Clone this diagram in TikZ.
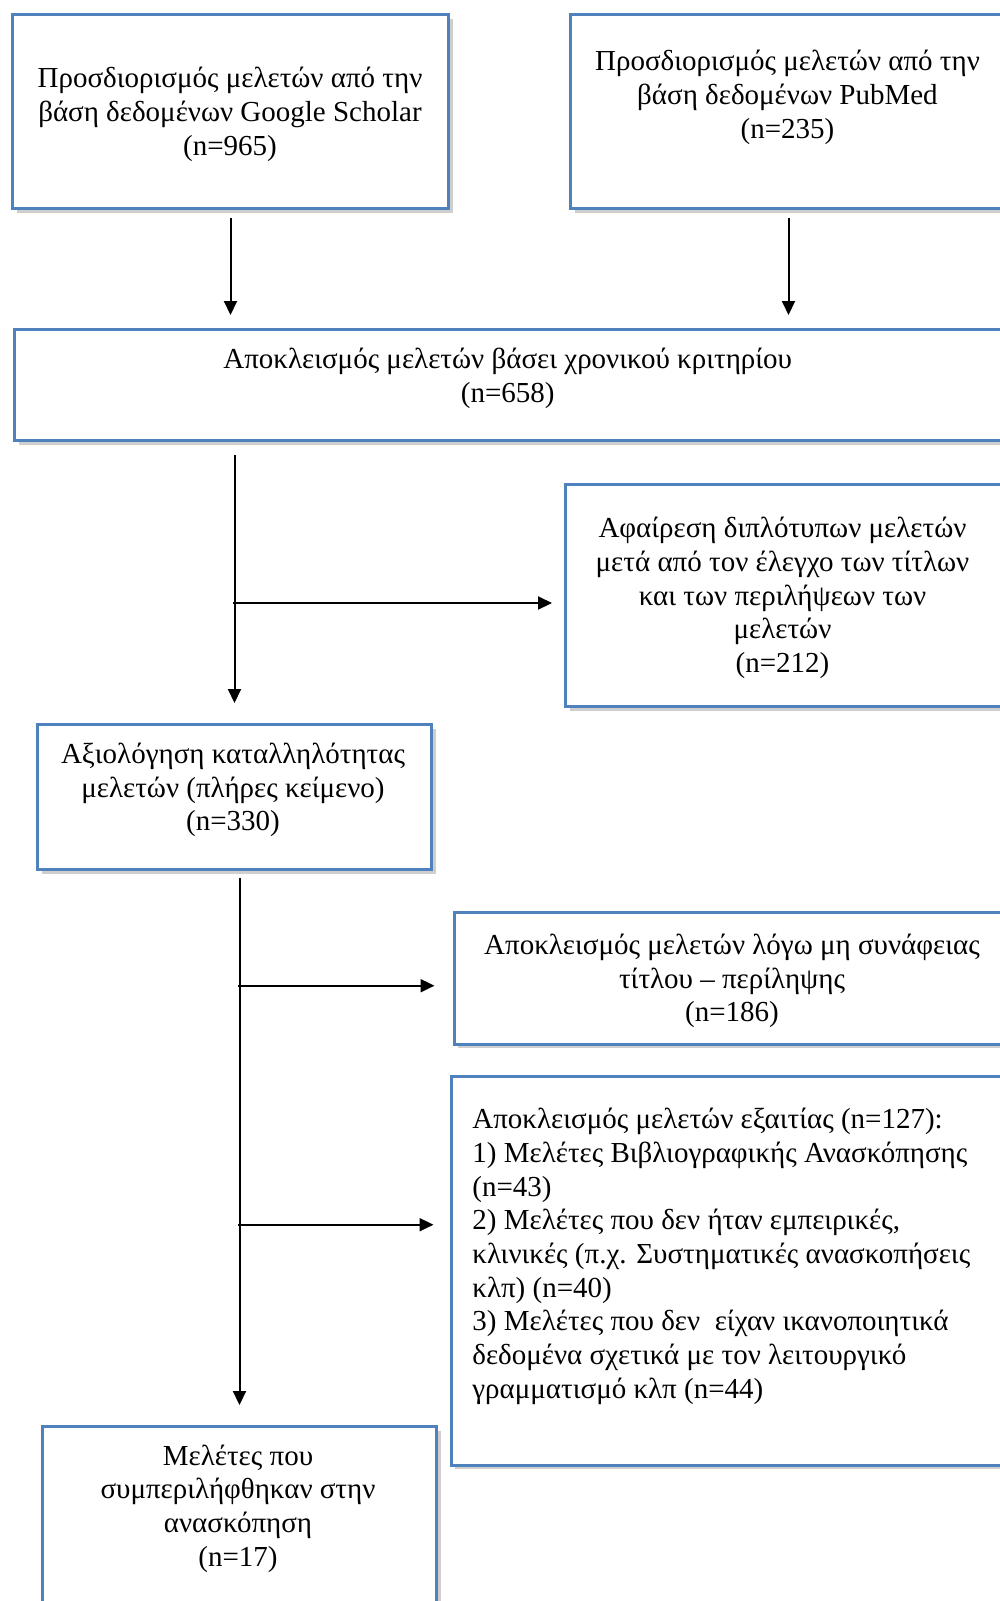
\documentclass[tikz,border=0pt]{standalone}
\usepackage{fontspec}
\setmainfont{Liberation Serif}
\usetikzlibrary{positioning,arrows.meta,shadows}
\definecolor{boxblue}{HTML}{4F81BD}
\tikzset{flow box/.style={draw=boxblue,line width=1.5pt,fill=white,inner sep=0pt,anchor=north west,drop shadow={shadow xshift=2pt,shadow yshift=-2pt,opacity=0.35,fill=black!55}},
flow text/.style={inner sep=0pt,align=center,yshift=-1.2pt,font=\fontsize{14.5pt}{16.85pt}\selectfont},
flow arrow/.style={line width=1pt,-{Triangle[length=7pt,width=6.5pt]}},}

\begin{document}
\begin{tikzpicture}[x=0.5pt,y=-0.5pt]
	\useasboundingbox (0,0) rectangle (1000,1601);

	% boxes
	\node[flow box,minimum width=218pt,minimum height=97pt] (gs) at (11,13) {};
	\node[flow box,minimum width=218pt,minimum height=97pt] (pm) at (569,13) {};
	\node[flow box,minimum width=495.5pt,minimum height=55.5pt] (ex) at (13,328) {};
	\node[flow box,minimum width=222pt,minimum height=111pt] (dup) at (564,483) {};
	\node[flow box,minimum width=197pt,minimum height=72.5pt] (ap) at (36,723) {};
	\node[flow box,minimum width=277.75pt,minimum height=66pt] (rel) at (452.5,910.6) {};
	\node[flow box,minimum width=279.25pt,minimum height=194.25pt] (exc) at (449.5,1075) {};
	\node[flow box,minimum width=197pt,minimum height=97.5pt] (inc) at (41,1425) {};

	% texts
	\node[flow text] (gs-t) at (230,112) {Προσδιορισμός μελετών από την\\βάση δεδομένων Google Scholar\\(n=965)};
	\node[flow text] (pm-t) at (787.5,95) {Προσδιορισμός μελετών από την\\βάση δεδομένων PubMed\\(n=235)};
	\node[flow text] (ex-t) at (507.7,376.3) {Αποκλεισμός μελετών βάσει χρονικού κριτηρίου\\(n=658)};
	\node[flow text] (dup-t) at (782.5,595.5) {Αφαίρεση διπλότυπων μελετών\\μετά από τον έλεγχο των τίτλων\\και των περιλήψεων των\\μελετών\\(n=212)};
	\node[flow text] (ap-t) at (233,787.6) {Αξιολόγηση καταλληλότητας\\μελετών (πλήρες κείμενο)\\(n=330)};
	\node[flow text] (rel-t) at (732,978.6) {Αποκλεισμός μελετών λόγω μη συνάφειας\\τίτλου – περίληψης\\(n=186)};
	\node[flow text,align=left,anchor=west] (exc-t) at (472,1254) {Αποκλεισμός μελετών εξαιτίας (n=127):\\1) Μελέτες Βιβλιογραφικής Ανασκόπησης\\(n=43)\\2) Μελέτες που δεν ήταν εμπειρικές,\\κλινικές (π.χ. Συστηματικές ανασκοπήσεις\\κλπ) (n=40)\\3) Μελέτες που δεν~ είχαν ικανοποιητικά\\δεδομένα σχετικά με τον λειτουργικό\\γραμματισμό κλπ (n=44)};
	\node[flow text] (inc-t) at (238,1506) {Μελέτες που\\συμπεριλήφθηκαν στην\\ανασκόπηση\\(n=17)};

	% branch points
	\coordinate (j1) at (233,603);
	\coordinate (j2) at (238,985.7);
	\coordinate (j3) at (238,1224.7);

	\path[flow arrow,shorten <=4pt,shorten >=6.5pt]
	(gs.south) edge (gs.south |- ex.north)
	(pm.south) edge (pm.south |- ex.north)
	;
	\path[flow arrow]
	([yshift=-6.5pt]ex.south -| ap.north) edge[shorten >=10pt] (ap.north)
	(j1) edge[shorten >=6pt] (j1 -| dup.west)
	([yshift=-3.5pt]ap.south -| inc.north) edge[shorten >=10pt] (inc.north)
	(j2) edge[shorten >=9pt] (j2 -| rel.west)
	(j3) edge[shorten >=8pt] (j3 -| exc.west)
	;
\end{tikzpicture}
\end{document}
